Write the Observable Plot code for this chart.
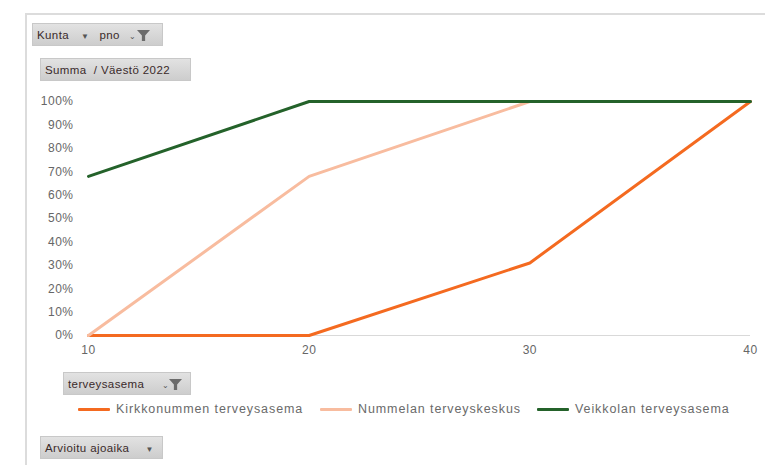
<!DOCTYPE html>
<html>
<head>
<meta charset="utf-8">
<script src="https://cdn.jsdelivr.net/npm/d3@7"></script>
<script src="https://cdn.jsdelivr.net/npm/@observablehq/plot@0.6"></script>
<style>
  body { margin: 0; background: #fff; font-family: "Liberation Sans", Arial, sans-serif; }
  #wrap { position: relative; width: 765px; height: 465px; overflow: hidden; }
  #frame { position: absolute; left: 25px; top: 13px; right: -2px; bottom: -2px; border-top: 2px solid #dcdcdc; border-left: 2px solid #dcdcdc; }
  .btn { position: absolute; height: 23px; line-height: 23px; font-size: 11.5px; letter-spacing: 0.4px; color: #3a2a2a;
         background: linear-gradient(#e2e2e2, #cdcdcd); border: 1px solid #c8c8c8; padding: 0 4px; box-sizing: border-box; white-space: nowrap; }
  .btn svg { vertical-align: middle; }
  .dd { color: #555; font-size: 8px; margin: 0 8px; }
  #legend { position: absolute; top: 402px; left: 78px; font-size: 12.5px; letter-spacing: 0.9px; color: #6a6a6a; white-space: nowrap; }
  .li { position: absolute; top: 0; }
  .sw { display: inline-block; width: 32px; height: 3px; vertical-align: middle; margin-right: 6px; border-radius: 1px; }
  #chart { position: absolute; left: 0; top: 0; }
</style>
</head>
<body>
<div id="wrap">
  <div id="frame"></div>
  <div id="chart"></div>
</div>
<script>
const ajoaika = [10, 20, 30, 40];
const series = ["Kirkkonummen terveysasema", "Nummelan terveyskeskus", "Veikkolan terveysasema"];
const kirkkonummi = [0, 0, 0.31, 1];
const nummela = [0, 0.68, 1, 1];
const veikkola = [0.68, 1, 1, 1];
const colors = ["#f46a20", "#f8bc9f", "#24622a"];
const yTicks = [0, 0.1, 0.2, 0.3, 0.4, 0.5, 0.6, 0.7, 0.8, 0.9, 1];
const xTicks = [10, 20, 30, 40];

const values = [kirkkonummi, nummela, veikkola];
const data = [];
series.forEach((s, i) => ajoaika.forEach((a, j) => data.push({series: s, ajoaika: a, osuus: values[i][j]})));

const chart = Plot.plot({
  width: 765,
  height: 465,
  marginLeft: 88,
  marginRight: 15,
  marginTop: 101,
  marginBottom: 130,
  style: { background: "transparent", fontFamily: "Liberation Sans, Arial, sans-serif", fontSize: "12px", letterSpacing: "0.5px", color: "#666", overflow: "visible" },
  x: { domain: [10, 40], ticks: xTicks, tickSize: 0, tickPadding: 10, label: null, tickFormat: d => String(d) },
  y: { domain: [0, 1], ticks: yTicks, tickSize: 0, tickPadding: 15, label: null, tickFormat: d3.format(".0%") },
  color: { domain: series, range: colors },
  marks: [
    Plot.ruleY([0], { stroke: "#d9d9d9", strokeWidth: 1.2 }),
    Plot.line(data, { x: "ajoaika", y: "osuus", z: "series", stroke: "series", strokeWidth: 3, strokeLinecap: "round", strokeLinejoin: "round" })
  ]
});
document.getElementById("chart").appendChild(chart);

const funnel = '<svg width="13" height="13" viewBox="0 0 12 12"><path d="M0 1 H12 L7.5 6 V11 H4.5 V6 Z" fill="#6b6b6b"/></svg>';
const wrap = document.getElementById("wrap");
function btn(html, left, top, width) {
  const d = document.createElement("div");
  d.className = "btn";
  d.style.left = left + "px"; d.style.top = top + "px"; d.style.width = width + "px";
  d.innerHTML = html;
  wrap.appendChild(d);
}
btn('Kunta<span class="dd" style="margin:0 10px 0 12px">▼</span>pno <span style="font-size:8px;color:#555;margin-left:6px">⌄</span>' + funnel, 32, 23, 131);
btn('Summa&nbsp; / Väestö 2022', 40, 58, 151);
btn('terveysasema <span style="font-size:8px;color:#555;margin-left:14px">⌄</span>' + funnel, 63, 372, 128);
btn('Arvioitu ajoaika<span class="dd" style="margin-left:16px">▼</span>', 40, 436, 123);

const legend = document.createElement("div");
legend.id = "legend";
const lefts = [0, 242, 459];
series.forEach((s, i) => {
  const it = document.createElement("div");
  it.className = "li";
  it.style.left = lefts[i] + "px";
  it.innerHTML = `<span class="sw" style="background:${colors[i]}"></span>${s}`;
  legend.appendChild(it);
});
wrap.appendChild(legend);
</script>
</body>
</html>
